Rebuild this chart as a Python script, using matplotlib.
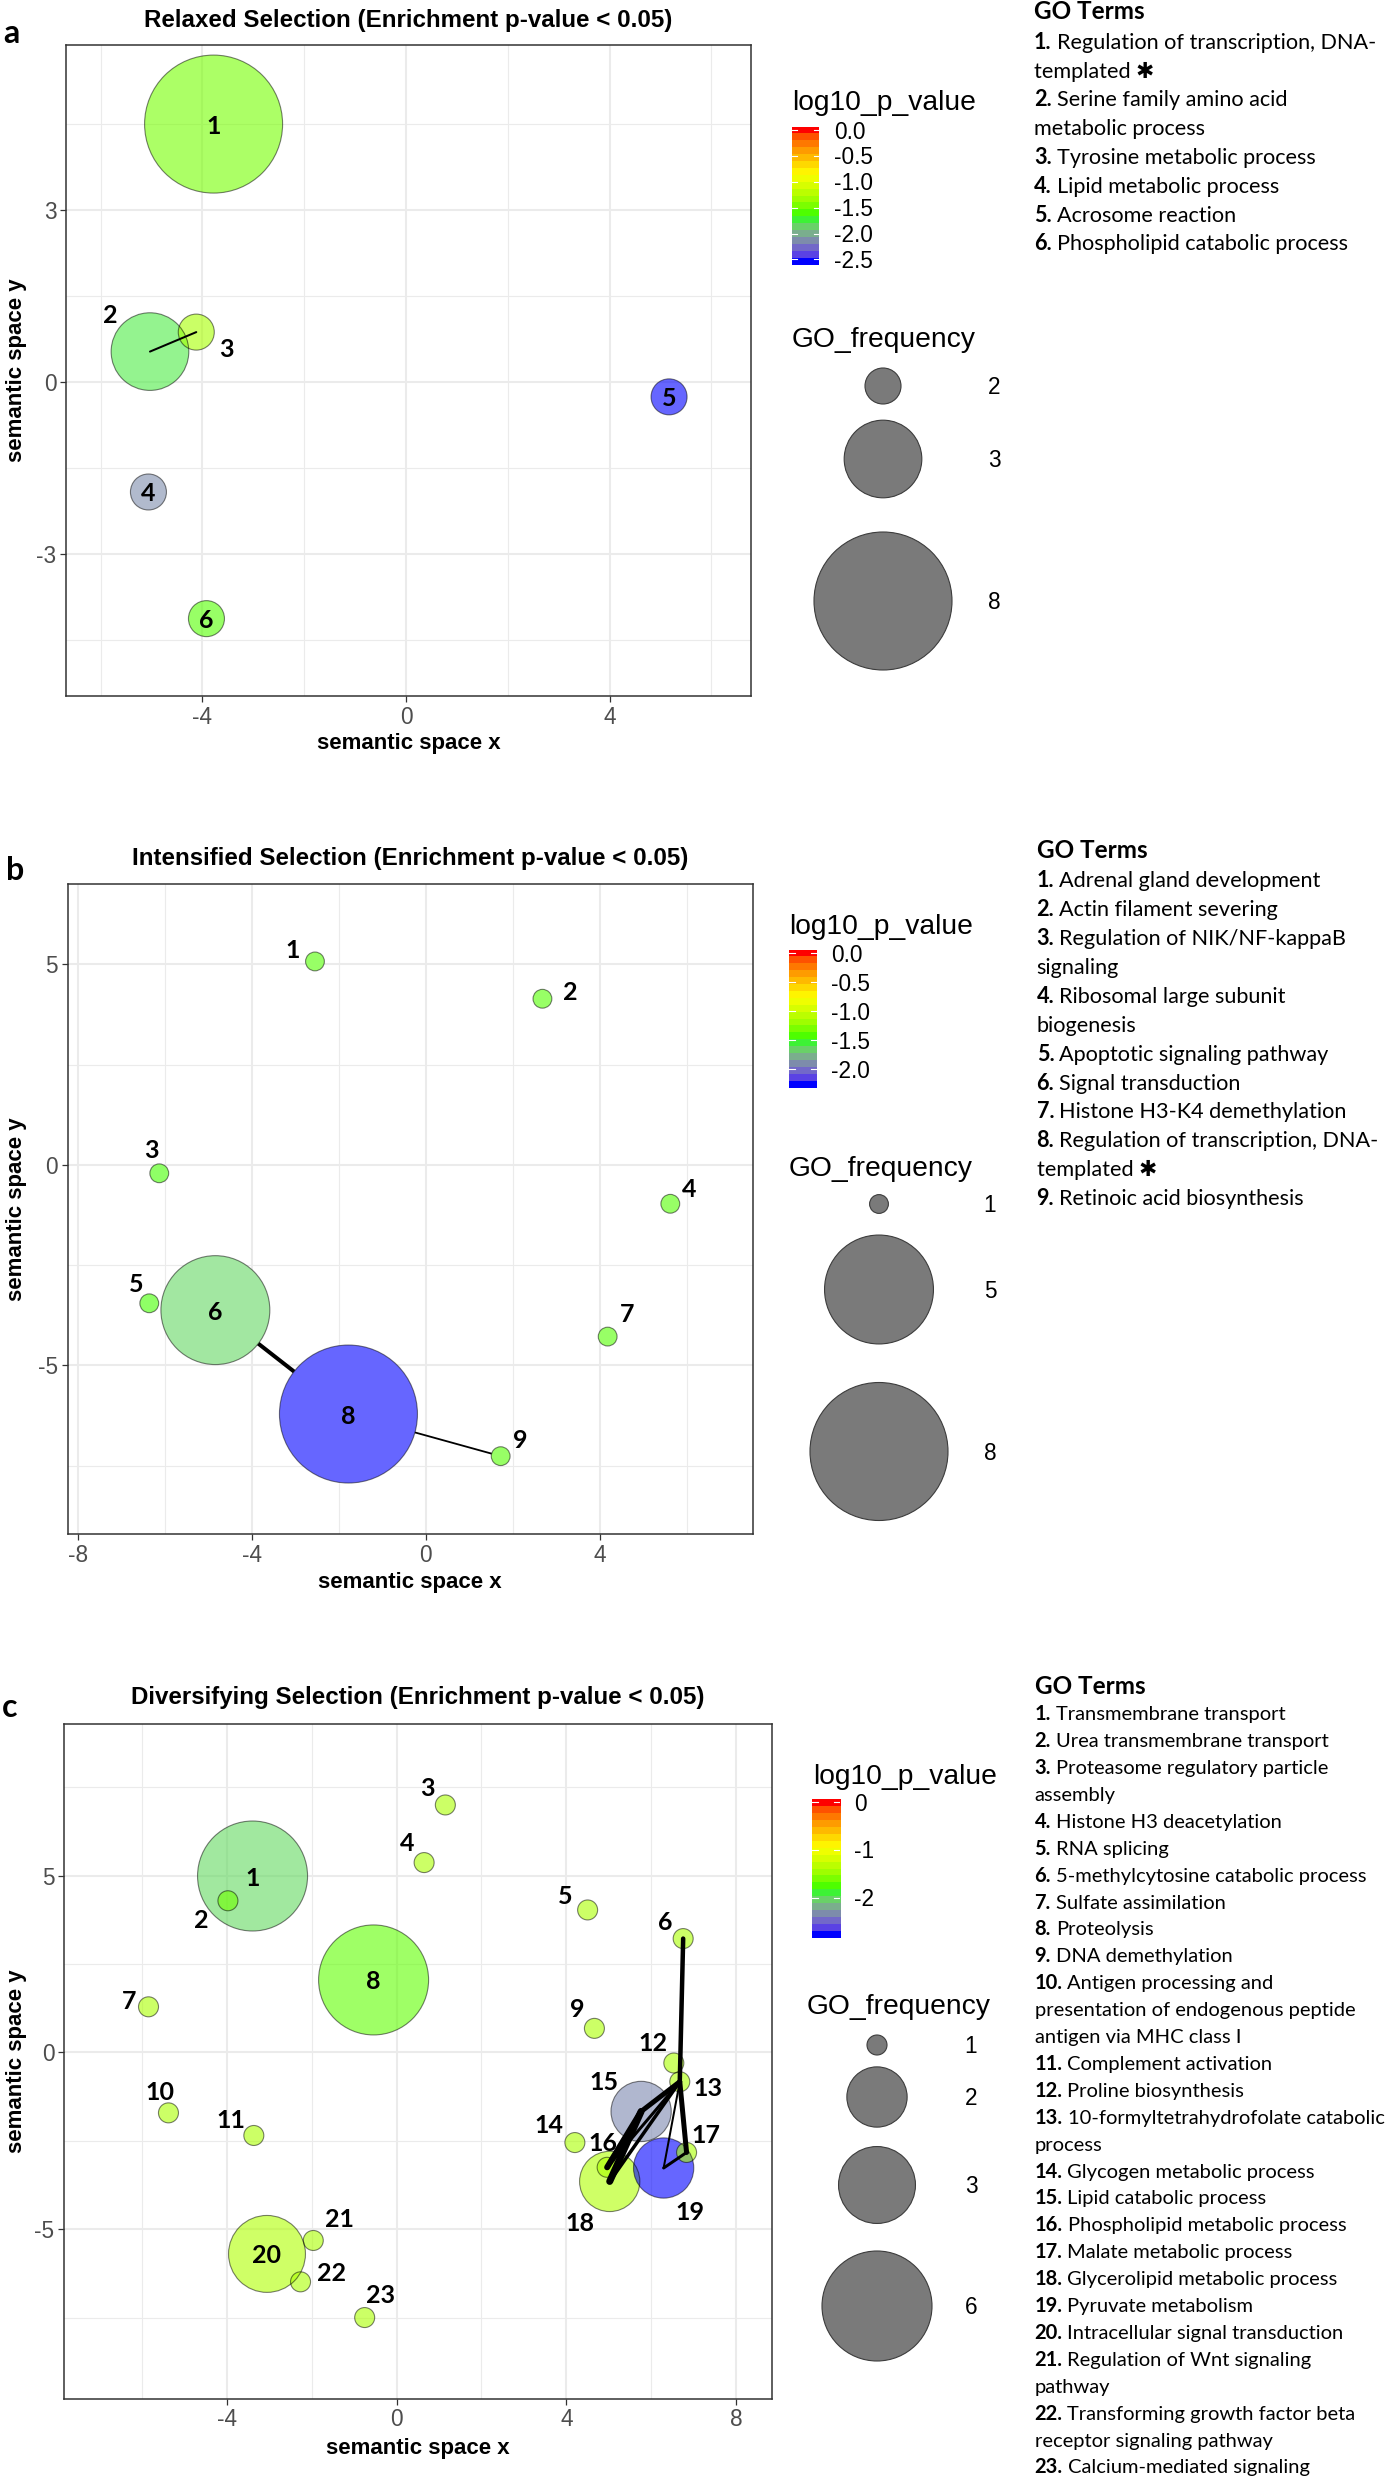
import numpy as np
import matplotlib
matplotlib.use("Agg")
import matplotlib.pyplot as plt
from matplotlib.colors import ListedColormap, Normalize
from matplotlib.patches import Circle

plt.rcParams['axes.unicode_minus'] = False

# ======================= DATA =======================
# Panel a : Relaxed selection
A_TERMS = ["Regulation of transcription, DNA-\ntemplated \u2731",
           "Serine family amino acid\nmetabolic process",
           "Tyrosine metabolic process",
           "Lipid metabolic process",
           "Acrosome reaction",
           "Phospholipid catabolic process"]
A_X = [-3.78, -5.03, -4.12, -5.06, 5.17, -3.92]
A_Y = [4.50, 0.53, 0.87, -1.92, -0.26, -4.13]
A_FREQ = [8, 3, 2, 2, 2, 2]
A_LOGP = [-1.50, -1.78, -1.30, -2.15, -2.55, -1.60]
A_LINKS = [(2, 3)]
A_LINK_W = [2.0]
A_SIZE_BREAKS = [2, 3, 8]
A_CB_BREAKS = [0.0, -0.5, -1.0, -1.5, -2.0, -2.5]
A_CB_LABELS = ["0.0", "-0.5", "-1.0", "-1.5", "-2.0", "-2.5"]

# Panel b : Intensified selection
B_TERMS = ["Adrenal gland development",
           "Actin filament severing",
           "Regulation of NIK/NF-kappaB\nsignaling",
           "Ribosomal large subunit\nbiogenesis",
           "Apoptotic signaling pathway",
           "Signal transduction",
           "Histone H3-K4 demethylation",
           "Regulation of transcription, DNA-\ntemplated \u2731",
           "Retinoic acid biosynthesis"]
B_X = [-2.55, 2.68, -6.13, 5.62, -6.36, -4.84, 4.18, -1.78, 1.72]
B_Y = [5.07, 4.14, -0.21, -0.97, -3.45, -3.62, -4.28, -6.21, -7.26]
B_FREQ = [1, 1, 1, 1, 1, 5, 1, 8, 1]
B_LOGP = [-1.42, -1.42, -1.45, -1.42, -1.45, -1.65, -1.42, -2.27, -1.42]
B_LINKS = [(6, 8), (8, 9)]
B_LINK_W = [4.0, 1.8]
B_SIZE_BREAKS = [1, 5, 8]
B_CB_BREAKS = [0.0, -0.5, -1.0, -1.5, -2.0]
B_CB_LABELS = ["0.0", "-0.5", "-1.0", "-1.5", "-2.0"]

# Panel c : Diversifying selection
C_TERMS = ["Transmembrane transport",
           "Urea transmembrane transport",
           "Proteasome regulatory particle\nassembly",
           "Histone H3 deacetylation",
           "RNA splicing",
           "5-methylcytosine catabolic process",
           "Sulfate assimilation",
           "Proteolysis",
           "DNA demethylation",
           "Antigen processing and\npresentation of endogenous peptide\nantigen via MHC class I",
           "Complement activation",
           "Proline biosynthesis",
           "10-formyltetrahydrofolate catabolic\nprocess",
           "Glycogen metabolic process",
           "Lipid catabolic process",
           "Phospholipid metabolic process",
           "Malate metabolic process",
           "Glycerolipid metabolic process",
           "Pyruvate metabolism",
           "Intracellular signal transduction",
           "Regulation of Wnt signaling\npathway",
           "Transforming growth factor beta\nreceptor signaling pathway",
           "Calcium-mediated signaling"]
C_X = [-3.39, -3.97, 1.15, 0.65, 4.50, 6.75, -5.84, -0.54, 4.66, -5.37, -3.36, 6.53,
       6.67, 4.20, 5.76, 4.96, 6.83, 5.02, 6.29, -3.05, -1.96, -2.26, -0.75]
C_Y = [4.99, 4.29, 7.00, 5.37, 4.03, 3.22, 1.29, 2.05, 0.68, -1.71, -2.35, -0.30,
       -0.83, -2.55, -1.67, -3.25, -2.83, -3.65, -3.27, -5.70, -5.32, -6.49, -7.50]
C_FREQ = [6, 1, 1, 1, 1, 1, 1, 6, 1, 1, 1, 1, 1, 1, 2, 1, 1, 2, 2, 3, 1, 1, 1]
C_LOGP = [-2.00, -1.65, -1.40, -1.40, -1.40, -1.40, -1.40, -1.70, -1.40, -1.40, -1.40, -1.40,
          -1.40, -1.40, -2.35, -1.40, -1.40, -1.38, -2.76, -1.38, -1.40, -1.40, -1.40]
C_LINKS = [(6, 13), (13, 15), (15, 18), (15, 16), (13, 18), (13, 16), (13, 17), (13, 19), (19, 17)]
C_LINK_W = [4.5, 5.0, 7.0, 6.0, 3.5, 3.0, 5.0, 2.0, 3.0]
C_SIZE_BREAKS = [1, 2, 3, 6]
C_CB_BREAKS = [0, -1, -2]
C_CB_LABELS = ["0", "-1", "-2"]

# ======================= LAYOUT / STYLE =======================
W, H, DPI = 1391, 2481, 100
ARIAL = ['Liberation Sans', 'DejaVu Sans']
LATO = ['Lato', 'DejaVu Sans']
CB_HEIGHT = 138.5

LAYOUT = {
    'a': dict(letter=(3, 43), title="Relaxed Selection (Enrichment p-value < 0.05)", title_y=20,
              box=(66, 45, 751, 696), xlim=(-6.68, 6.78), ylim=(-5.48, 5.88),
              xmajor=[-4, 0, 4], xminor=[-6, -2, 2, 6],
              ymajor=[-3, 0, 3], yminor=[-4.5, -1.5, 1.5, 4.5],
              xlab_y=744, ylab_x=16.5, rrange=(18, 69),
              cb_title=(792, 100), cb_x=(792, 819), cb_top=127, cb_lab_x=834,
              sz_title=(792, 336.5), sz_cx=883, sz_cy=[386, 459, 601], sz_lab_x=994,
              go_x=1034, go_head=10.5, go_first=41, go_dy=28.8, go_fs=15.6,
              labels={2: (-5.82, 1.19), 3: (-3.53, 0.60)}, lines_on_top=True),
    'b': dict(letter=(6, 880), title="Intensified Selection (Enrichment p-value < 0.05)", title_y=859,
              box=(67.5, 884, 752.5, 1534), xlim=(-8.24, 7.51), ylim=(-9.2, 7.0),
              xmajor=[-8, -4, 0, 4], xminor=[-6, -2, 2, 6],
              ymajor=[-5, 0, 5], yminor=[-7.5, -2.5, 2.5],
              xlab_y=1582.5, ylab_x=16.5, rrange=(9.4, 69),
              cb_title=(789, 924), cb_x=(789, 817), cb_top=950, cb_lab_x=831,
              sz_title=(789, 1166), sz_cx=879, sz_cy=[1204, 1289.5, 1451.5], sz_lab_x=990,
              go_x=1036.6, go_head=849.5, go_first=879.4, go_dy=28.9, go_fs=15.6,
              labels={1: (-3.07, 5.40), 2: (3.31, 4.34), 3: (-6.30, 0.41), 4: (6.05, -0.56),
                      5: (-6.66, -2.94), 7: (4.63, -3.69), 9: (2.17, -6.81)},
              lines_on_top=False),
    'c': dict(letter=(2, 1717), title="Diversifying Selection (Enrichment p-value < 0.05)", title_y=1697.5,
              box=(64, 1724, 771.5, 2398.5), xlim=(-7.83, 8.83), ylim=(-9.79, 9.29),
              xmajor=[-4, 0, 4, 8], xminor=[-6, -2, 2, 6],
              ymajor=[-5, 0, 5], yminor=[-7.5, -2.5, 2.5, 7.5],
              xlab_y=2448.5, ylab_x=16.5, rrange=(10, 55),
              cb_title=(813, 1774), cb_x=(812, 840), cb_top=1799, cb_lab_x=854,
              sz_title=(806.6, 2004), sz_cx=877, sz_cy=[2045, 2097, 2185, 2306], sz_lab_x=971,
              go_x=1034.6, go_head=1685, go_first=1713, go_dy=26.9, go_fs=14.5,
              labels={2: (-4.59, 3.80), 3: (0.73, 7.52), 4: (0.26, 5.97), 5: (3.97, 4.46),
                      6: (6.33, 3.72), 7: (-6.30, 1.49), 9: (4.26, 1.26), 10: (-5.57, -1.07),
                      11: (-3.91, -1.88), 12: (6.03, 0.31), 13: (7.33, -0.96), 14: (3.59, -2.02),
                      15: (4.89, -0.79), 16: (4.85, -2.53), 17: (7.29, -2.28), 18: (4.32, -4.79),
                      19: (6.91, -4.47), 21: (-1.35, -4.68), 22: (-1.54, -6.20), 23: (-0.37, -6.82)},
              lines_on_top=True),
}

# ---------- colour scale: blue-green-yellow-red, interpolated in CIELAB ----------
_M = np.array([[0.4124564, 0.3575761, 0.1804375],
               [0.2126729, 0.7151522, 0.0721750],
               [0.0193339, 0.1191920, 0.9503041]])
_WP = np.array([0.95047, 1.0, 1.08883])


def srgb_to_lab(rgb):
    rgb = np.asarray(rgb, float)
    c = np.where(rgb <= 0.04045, rgb / 12.92, ((rgb + 0.055) / 1.055) ** 2.4)
    t = (c @ _M.T) / _WP
    d = 6 / 29
    f = np.where(t > d ** 3, np.cbrt(t), t / (3 * d * d) + 4 / 29)
    return np.stack([116 * f[..., 1] - 16, 500 * (f[..., 0] - f[..., 1]),
                     200 * (f[..., 1] - f[..., 2])], -1)


def lab_to_srgb(lab):
    d = 6 / 29
    fy = (lab[..., 0] + 16) / 116
    f = np.stack([fy + lab[..., 1] / 500, fy, fy - lab[..., 2] / 200], -1)
    t = np.where(f > d, f ** 3, 3 * d * d * (f - 4 / 29))
    c = np.clip((t * _WP) @ np.linalg.inv(_M).T, 0, 1)
    return np.clip(np.where(c <= 0.0031308, 12.92 * c, 1.055 * c ** (1 / 2.4) - 0.055), 0, 1)


anchors = srgb_to_lab(np.array([[0, 0, 1], [0, 1, 0], [1, 1, 0], [1, 0, 0]], float))
pos = np.linspace(0, 1, 4)
tt = np.linspace(0, 1, 256)
lab = np.stack([np.interp(tt, pos, anchors[:, k]) for k in range(3)], -1)
CMAP = ListedColormap(lab_to_srgb(lab))

# ======================= FIGURE =======================
fig = plt.figure(figsize=(W / DPI, H / DPI), dpi=DPI)
fig.patch.set_facecolor('white')
ov = fig.add_axes([0, 0, 1, 1], zorder=10)
ov.set_xlim(0, W)
ov.set_ylim(H, 0)
ov.axis('off')
renderer = fig.canvas.get_renderer()


def px_rect(x0, y0, x1, y1):
    return [x0 / W, 1 - y1 / H, (x1 - x0) / W, (y1 - y0) / H]


def ctext(x, yc, s, fs, **kw):
    return ov.text(x, yc + 0.36 * fs * DPI / 72, s, fontsize=fs, va='baseline', **kw)


def draw_panel(key, X, Y, FREQ, LOGP, TERMS, LINKS, LINK_W, SIZE_BREAKS, CB_BREAKS, CB_LABELS):
    L = LAYOUT[key]
    x0, y0, x1, y1 = L['box']
    ax = fig.add_axes(px_rect(x0, y0, x1, y1))
    ax.set_xlim(L['xlim'])
    ax.set_ylim(L['ylim'])
    for v in L['xminor']:
        ax.axvline(v, color='#ebebeb', lw=0.8, zorder=0)
    for v in L['yminor']:
        ax.axhline(v, color='#ebebeb', lw=0.8, zorder=0)
    for v in L['xmajor']:
        ax.axvline(v, color='#ebebeb', lw=1.5, zorder=0)
    for v in L['ymajor']:
        ax.axhline(v, color='#ebebeb', lw=1.5, zorder=0)
    ax.set_xticks(L['xmajor'])
    ax.set_xticklabels([f"{v:g}" for v in L['xmajor']], family=ARIAL)
    ax.set_yticks(L['ymajor'])
    ax.set_yticklabels([f"{v:g}" for v in L['ymajor']], family=ARIAL)
    ax.tick_params(direction='out', length=4, width=0.9, color='#333333',
                   labelsize=16.3, labelcolor='#4d4d4d', pad=3)
    for s in ax.spines.values():
        s.set_color('#333333')
        s.set_linewidth(1.1)

    X = np.asarray(X, float)
    Y = np.asarray(Y, float)
    F = np.asarray(FREQ, float)
    P = np.asarray(LOGP, float)
    vmin = P.min()
    norm = Normalize(vmin, 0)
    fmin, fmax = F.min(), F.max()
    rmin, rmax = L['rrange']

    def radius(f):
        return rmin + (rmax - rmin) * np.sqrt((np.asarray(f, float) - fmin) / (fmax - fmin))

    order = np.argsort(-F, kind='stable')
    s = (2 * radius(F[order]) * 72 / DPI) ** 2
    cols = CMAP(norm(P[order]))
    cols[:, 3] = 0.6

    lz = 3 if L['lines_on_top'] else 1.5
    for (i, j), w in zip(LINKS, LINK_W):
        ax.plot([X[i - 1], X[j - 1]], [Y[i - 1], Y[j - 1]], color='black',
                lw=w * 0.72, solid_capstyle='round', zorder=lz)
    if not L['lines_on_top']:
        ax.scatter(X[order], Y[order], s=s, color='white', linewidths=0, zorder=1.8)
    ax.scatter(X[order], Y[order], s=s, color=cols, linewidths=0, zorder=2)
    ax.scatter(X[order], Y[order], s=s, facecolors='none', edgecolors=(0, 0, 0, 0.5),
               linewidths=0.8, zorder=2.1)

    for k in range(len(X)):
        lx, ly = L['labels'].get(k + 1, (X[k], Y[k]))
        ax.text(lx, ly, str(k + 1), ha='center', va='center_baseline', fontsize=18,
                weight='bold', family=LATO, zorder=4)

    # titles and axis titles
    ov.text((x0 + x1) / 2, L['title_y'], L['title'], ha='center', va='center', fontsize=17.4,
            weight='bold', family=ARIAL)
    ov.text(L['letter'][0], L['letter'][1], key, ha='left', va='baseline', fontsize=23,
            weight='bold', family=LATO)
    ov.text((x0 + x1) / 2, L['xlab_y'], "semantic space x", ha='center', va='center',
            fontsize=16, weight='bold', family=ARIAL)
    ov.text(L['ylab_x'], (y0 + y1) / 2, "semantic space y", ha='center', va='center',
            rotation=90, fontsize=16, weight='bold', family=ARIAL)

    # colour bar
    hb = -vmin / 19 / 2
    cx0, cx1 = L['cb_x']
    cax = fig.add_axes(px_rect(cx0, L['cb_top'], cx1, L['cb_top'] + CB_HEIGHT))
    vals = np.linspace(vmin, 0, 20)
    img = CMAP(norm(vals))[:, None, :]
    cax.imshow(img, extent=[0, 1, vmin - hb, hb], origin='lower', aspect='auto',
               interpolation='nearest')
    cax.set_xlim(0, 1)
    cax.set_ylim(vmin - hb, hb)
    cax.axis('off')
    for b in CB_BREAKS:
        cax.plot([0, 0.2], [b, b], color='white', lw=0.8)
        cax.plot([0.8, 1], [b, b], color='white', lw=0.8)
    ctext(L['cb_title'][0], L['cb_title'][1], "log10_p_value", 20.3, ha='left', family=ARIAL)
    for b, lab in zip(CB_BREAKS, CB_LABELS):
        yb = L['cb_top'] + (hb - b) / (-vmin + 2 * hb) * CB_HEIGHT
        ctext(L['cb_lab_x'], yb, lab, 16.3, ha='left', family=ARIAL)

    # size legend
    ctext(L['sz_title'][0], L['sz_title'][1], "GO_frequency", 20.3, ha='left', family=ARIAL)
    for b, cy in zip(SIZE_BREAKS, L['sz_cy']):
        ov.add_patch(Circle((L['sz_cx'], cy), float(radius(b)), facecolor='#7a7a7a',
                            edgecolor='#3c3c3c', lw=0.8))
        ctext(L['sz_lab_x'], cy, str(b), 16.3, ha='center', family=ARIAL)

    # GO term list
    fs = L['go_fs']
    em = fs * DPI / 72
    ctext(L['go_x'], L['go_head'], "GO Terms", 17.5, ha='left', weight='bold', family=LATO)
    y = L['go_first']
    for k, term in enumerate(TERMS):
        parts = term.split('\n')
        t = ctext(L['go_x'], y, f"{k + 1}.", fs, ha='left', weight='bold', family=LATO)
        bb = t.get_window_extent(renderer)
        ctext(bb.x1 + 0.24 * em, y, parts[0], fs, ha='left', family=LATO)
        y += L['go_dy']
        for p in parts[1:]:
            ctext(L['go_x'], y, p, fs, ha='left', family=LATO)
            y += L['go_dy']


draw_panel('a', A_X, A_Y, A_FREQ, A_LOGP, A_TERMS, A_LINKS, A_LINK_W, A_SIZE_BREAKS,
           A_CB_BREAKS, A_CB_LABELS)
draw_panel('b', B_X, B_Y, B_FREQ, B_LOGP, B_TERMS, B_LINKS, B_LINK_W, B_SIZE_BREAKS,
           B_CB_BREAKS, B_CB_LABELS)
draw_panel('c', C_X, C_Y, C_FREQ, C_LOGP, C_TERMS, C_LINKS, C_LINK_W, C_SIZE_BREAKS,
           C_CB_BREAKS, C_CB_LABELS)

fig.savefig('out.png', dpi=DPI, facecolor='white')
